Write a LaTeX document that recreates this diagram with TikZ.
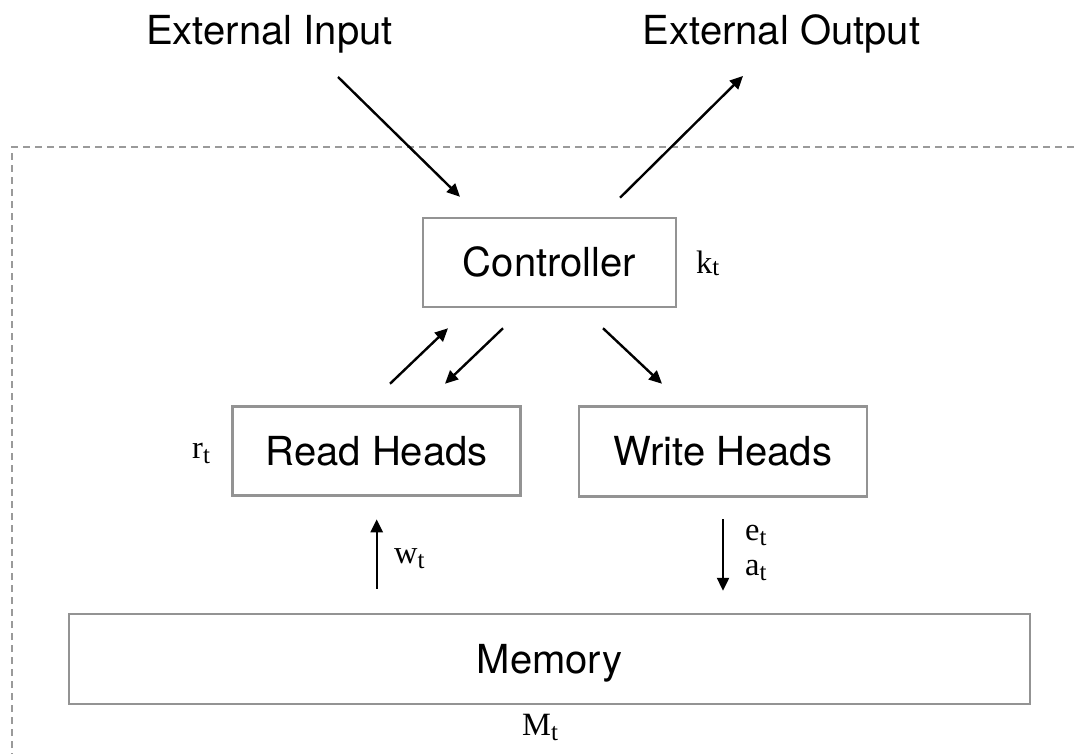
\documentclass[tikz,border=0pt]{standalone}
\usepackage{fontspec}
\setmainfont{Liberation Serif}
\newfontfamily\hv{TeX Gyre Heros}
\usetikzlibrary{arrows.meta,calc}
\definecolor{boxgray}{HTML}{939393}
\definecolor{framegray}{HTML}{9A9A9A}
\newcommand\subt[2][5pt]{\raisebox{-#1}{\fontsize{25}{27}\selectfont #2}}
\begin{document}
\begin{tikzpicture}[x=1pt,y=-1pt,
  box/.style={draw=boxgray,line width=2.5pt,inner sep=0pt,font=\hv\fontsize{40}{48}\selectfont,text height=28.7pt,text depth=0pt},
  ttl/.style={font=\hv\fontsize{40}{48}\selectfont,inner sep=0pt,anchor=base},
  lbl/.style={font=\fontsize{32.5}{35}\selectfont,inner sep=0pt,anchor=base west},
  arr/.style={line width=2.4pt,-{Triangle[length=13pt,width=12pt]}},
  frame/.style={draw=framegray,line width=2.6pt,dash pattern=on 7pt off 5pt}]
\useasboundingbox (0,0) rectangle (1078,754);
\fill[white] (0,0) rectangle (1078,754);

% dashed frame (open to the right and bottom)
\draw[frame] (12,760) -- (12,147) -- (1085,147);

% boxes
\node[box,minimum width=253pt,minimum height=89pt] (ctrl) at (549.5,262.5) {Controller};
\node[box,minimum width=288pt,minimum height=89pt] (read) at (376.7,451.2) {Read Heads};
\node[box,minimum width=288pt,minimum height=90pt] (write) at (723,451.5) {Write Heads};
\node[box,minimum width=961pt,minimum height=90pt] (mem) at (549.5,659) {Memory};

% titles
\node[ttl] (inp) at (269.5,45) {External Input};
\node[ttl] (outp) at (781.5,45) {External Output};

% labels
\node[lbl] (kt) at (696,273) {k\subt[2pt]{t}};
\node[lbl] (rt) at (192,458) {r\subt{t}};
\node[lbl] (wt) at (394,563) {w\subt{t}};
\node[lbl] (et) at (745,540) {e\subt{t}};
\node[lbl] (at) at (745,575) {a\subt{t}};
\node[lbl] (Mt) at (522,735) {M\subt{t}};

% connector end points
\coordinate (inS) at ($(inp.base)+(68.5,32)$);
\coordinate (inE) at ($(ctrl.north)+(-89.5,-20)$);
\coordinate (outS) at ($(ctrl.north)+(70.5,-19)$);
\coordinate (outE) at ($(outp.base)+(-38.5,31)$);
\coordinate (r1S) at ($(read.north)+(13.3,-21.7)$);
\coordinate (r1E) at ($(ctrl.south)+(-101.5,20)$);
\coordinate (r2S) at ($(ctrl.south)+(-46.5,20)$);
\coordinate (r2E) at ($(read.north)+(68.3,-21.7)$);
\coordinate (w1S) at ($(ctrl.south)+(53.5,20)$);
\coordinate (w1E) at ($(write.north)+(-61,-21.5)$);
\coordinate (mrS) at ($(mem.north -| read.south)+(0,-24)$);
\coordinate (mrE) at ($(read.south)+(0,22.3)$);
\coordinate (wmS) at ($(write.south)+(0,21.5)$);
\coordinate (wmE) at ($(mem.north -| write.south)+(0,-22)$);

% connectors
\draw[arr] (inS) -- (inE);
\draw[arr] (outS) -- (outE);
\draw[arr] (r1S) -- (r1E);
\draw[arr] (r2S) -- (r2E);
\draw[arr] (w1S) -- (w1E);
\draw[arr] (mrS) -- (mrE);
\draw[arr] (wmS) -- (wmE);
\end{tikzpicture}
\end{document}
